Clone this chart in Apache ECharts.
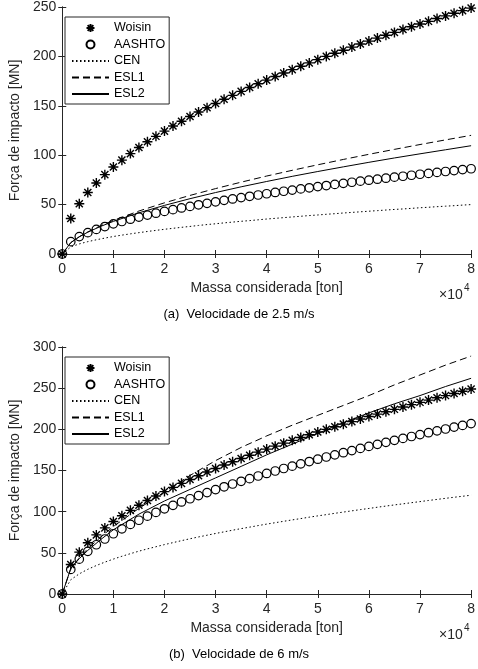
<!DOCTYPE html>
<html>
<head>
<meta charset="utf-8">
<script src="https://cdn.jsdelivr.net/npm/echarts/dist/echarts.min.js"></script>
<style>html,body{margin:0;background:#fff}#chart{width:478px;height:669px}</style>
</head>
<body>
<div id="chart"></div>
<script>
// massa considerada [ton], pontos dos marcadores
var mass = [0, 1667, 3333, 5000, 6667, 8333, 10000, 11667, 13333, 15000, 16667, 18333,
  20000, 21667, 23333, 25000, 26667, 28333, 30000, 31667, 33333, 35000, 36667, 38333,
  40000, 41667, 43333, 45000, 46667, 48333, 50000, 51667, 53333, 55000, 56667, 58333,
  60000, 61667, 63333, 65000, 66667, 68333, 70000, 71667, 73333, 75000, 76667, 78333, 80000];

// Woisin (igual nas duas velocidades)
var woisin = [0, 35.9, 50.8, 62.2, 71.8, 80.3, 88.0, 95.0, 101.6, 107.8, 113.6, 119.1,
  124.4, 129.5, 134.4, 139.1, 143.7, 148.1, 152.4, 156.6, 160.6, 164.6, 168.5, 172.3,
  176.0, 179.6, 183.2, 186.6, 190.1, 193.4, 196.7, 200.0, 203.2, 206.3, 209.4, 212.5,
  215.5, 218.5, 221.4, 224.3, 227.2, 230.0, 232.8, 235.5, 238.3, 241.0, 243.6, 246.3, 248.9];

// (a) 2.5 m/s
var aashtoA = [0, 12.5, 17.6, 21.6, 24.9, 27.8, 30.5, 32.9, 35.2, 37.4, 39.4, 41.3,
  43.1, 44.9, 46.6, 48.2, 49.8, 51.3, 52.8, 54.3, 55.7, 57.1, 58.4, 59.7,
  61.0, 62.3, 63.5, 64.7, 65.9, 67.0, 68.2, 69.3, 70.4, 71.5, 72.6, 73.7,
  74.7, 75.7, 76.7, 77.8, 78.7, 79.7, 80.7, 81.6, 82.6, 83.5, 84.4, 85.4, 86.3];
var cenA = [0, 7.2, 10.2, 12.5, 14.4, 16.1, 17.7, 19.1, 20.4, 21.6, 22.8, 23.9,
  25.0, 26.0, 27.0, 27.9, 28.9, 29.8, 30.6, 31.5, 32.3, 33.1, 33.8, 34.6,
  35.4, 36.1, 36.8, 37.5, 38.2, 38.9, 39.5, 40.2, 40.8, 41.5, 42.1, 42.7,
  43.3, 43.9, 44.5, 45.1, 45.6, 46.2, 46.8, 47.3, 47.9, 48.4, 48.9, 49.5, 50.0];

// (b) 6 m/s
var aashtoB = [0, 29.9, 42.3, 51.8, 59.8, 66.8, 73.2, 79.1, 84.5, 89.6, 94.5, 99.1,
  103.5, 107.7, 111.8, 115.7, 119.5, 123.2, 126.8, 130.2, 133.6, 136.9, 140.1, 143.3,
  146.4, 149.4, 152.4, 155.3, 158.1, 160.9, 163.7, 166.4, 169.0, 171.6, 174.2, 176.8,
  179.3, 181.8, 184.2, 186.6, 189.0, 191.3, 193.6, 195.9, 198.2, 200.4, 202.7, 204.8, 207.0];
var cenB = [0, 17.3, 24.5, 30.0, 34.6, 38.7, 42.4, 45.8, 49.0, 52.0, 54.8, 57.4,
  60.0, 62.4, 64.8, 67.1, 69.3, 71.4, 73.5, 75.5, 77.5, 79.4, 81.2, 83.1,
  84.9, 86.6, 88.3, 90.0, 91.6, 93.3, 94.9, 96.4, 98.0, 99.5, 101.0, 102.5,
  103.9, 105.4, 106.8, 108.2, 109.5, 110.9, 112.2, 113.6, 114.9, 116.2, 117.5, 118.7, 120.0];

// curvas ESL
var eslMass = [0, 1667, 3333, 5000, 7500, 10000, 15000, 20000, 25000, 30000, 35000,
  40000, 45000, 50000, 55000, 60000, 65000, 70000, 75000, 80000];
var esl1A = [0, 11.5, 17.5, 22.3, 28.6, 34, 43.5, 51.8, 59.3, 66.2, 72.7, 78.9, 84.7, 90.3, 95.7, 100.9, 105.9, 110.8, 115.5, 120.1];
var esl2A = [0, 11.5, 17.4, 22.1, 27.9, 33, 41.7, 49.2, 56.0, 62.2, 68.0, 73.4, 78.6, 83.5, 88.2, 92.8, 97.2, 101.4, 105.5, 109.6];
var esl1B = [0, 31, 44, 55, 69, 82, 104, 124, 144, 162, 178, 192, 205, 217, 229, 241, 254, 266, 278, 289];
var esl2B = [0, 31, 43, 53, 66, 78, 97, 113, 127, 141, 155, 169, 182, 195, 208, 220, 231, 241, 252, 262];

var xTicks = ['0', '1', '2', '3', '4', '5', '6', '7', '8'];
var names = ['Woisin', 'AASHTO', 'CEN', 'ESL1', 'ESL2'];
var captions = ['(a)  Velocidade de 2.5 m/s', '(b)  Velocidade de 6 m/s'];

var font = 'Liberation Sans, Arial, Helvetica, sans-serif';
var axisColor = '#262626';
var star = 'path://M0,-10L0,10M-10,0L10,0M-7.1,-7.1L7.1,7.1M-7.1,7.1L7.1,-7.1';

function pairs(xs, ys) {
  return xs.map(function (x, i) { return [x, ys[i]]; });
}

var chart = echarts.init(document.getElementById('chart'));

var grids = [
  { left: 54, right: 6, top: 7, height: 247 },
  { left: 54, right: 6, top: 347, height: 247 }
];
var ymax = [250, 300];

var xAxis = [], yAxis = [], series = [], legend = [];

grids.forEach(function (g, gi) {
  var tick = { inside: true, length: 4, lineStyle: { color: axisColor } };
  var line = { show: true, lineStyle: { color: axisColor, width: 1 } };
  xAxis.push({
    gridIndex: gi, type: 'value', min: 0, max: 80000, interval: 10000, position: 'bottom',
    axisLine: line, axisTick: tick, splitLine: { show: false },
    axisLabel: { formatter: function (v) { return xTicks[v / 10000]; }, fontSize: 14, color: axisColor, margin: 8, fontFamily: font },
    name: 'Massa considerada [ton]', nameLocation: 'middle', nameGap: 27,
    nameTextStyle: { fontSize: 14, color: axisColor, fontFamily: font }
  });
  xAxis.push({
    gridIndex: gi, type: 'value', min: 0, max: 80000, interval: 10000, position: 'top',
    axisLine: line, axisTick: tick, splitLine: { show: false }, axisLabel: { show: false }
  });
  yAxis.push({
    gridIndex: gi, type: 'value', min: 0, max: ymax[gi], interval: 50, position: 'left',
    axisLine: line, axisTick: tick, splitLine: { show: false },
    axisLabel: { fontSize: 14, color: axisColor, margin: 6, fontFamily: font },
    name: 'Força de impacto [MN]', nameLocation: 'middle', nameGap: 33,
    nameTextStyle: { fontSize: 14, color: axisColor, fontFamily: font }
  });
  yAxis.push({
    gridIndex: gi, type: 'value', min: 0, max: ymax[gi], interval: 50, position: 'right',
    axisLine: line, axisTick: tick, splitLine: { show: false }, axisLabel: { show: false }
  });

  var xi = gi * 2, yi = gi * 2;
  var aashto = gi === 0 ? aashtoA : aashtoB;
  var cen = gi === 0 ? cenA : cenB;
  var esl1 = gi === 0 ? esl1A : esl1B;
  var esl2 = gi === 0 ? esl2A : esl2B;
  var noMark = { color: 'rgba(0,0,0,0)', opacity: 0 };

  series.push({
    name: 'CEN', type: 'line', xAxisIndex: xi, yAxisIndex: yi, symbol: 'none',
    lineStyle: { color: '#000', width: 1, type: [1.5, 2.5] }, itemStyle: noMark,
    data: pairs(mass, cen)
  });
  series.push({
    name: 'ESL1', type: 'line', xAxisIndex: xi, yAxisIndex: yi, symbol: 'none',
    lineStyle: { color: '#000', width: 1, type: [7, 4] }, itemStyle: noMark,
    data: pairs(eslMass, esl1)
  });
  series.push({
    name: 'ESL2', type: 'line', xAxisIndex: xi, yAxisIndex: yi, symbol: 'none',
    lineStyle: { color: '#000', width: 1 }, itemStyle: noMark,
    data: pairs(eslMass, esl2)
  });
  series.push({
    name: 'AASHTO', type: 'scatter', xAxisIndex: xi, yAxisIndex: yi,
    symbol: 'circle', symbolSize: 8.5,
    itemStyle: { color: 'rgba(0,0,0,0)', borderColor: '#000', borderWidth: 1.2, opacity: 1 },
    data: pairs(mass, aashto)
  });
  series.push({
    name: 'Woisin', type: 'scatter', xAxisIndex: xi, yAxisIndex: yi,
    symbol: star, symbolSize: 10,
    itemStyle: { color: '#000', borderColor: '#000', borderWidth: 1.4, opacity: 1 },
    data: pairs(mass, woisin)
  });

  legend.push({
    orient: 'vertical', left: 65, top: g.top + 10, selectedMode: false,
    itemWidth: 37, itemHeight: 8, itemGap: 2.5,
    borderColor: axisColor, borderWidth: 1, padding: [4, 4, 3, 6],
    backgroundColor: '#fff',
    textStyle: { fontSize: 12.5, color: '#000', fontFamily: font, lineHeight: 14 },
    data: [
      { name: 'Woisin' },
      { name: 'AASHTO' },
      { name: 'CEN', itemStyle: noMark },
      { name: 'ESL1', itemStyle: noMark },
      { name: 'ESL2', itemStyle: noMark }
    ]
  });
});

var option = {
  animation: false,
  backgroundColor: '#fff',
  grid: grids,
  xAxis: xAxis,
  yAxis: yAxis,
  legend: legend,
  title: [
    { text: captions[0], left: 'center', top: 308, padding: 0,
      textStyle: { fontSize: 13, fontWeight: 'normal', color: '#000', fontFamily: font } },
    { text: captions[1], left: 'center', top: 648, padding: 0,
      textStyle: { fontSize: 13, fontWeight: 'normal', color: '#000', fontFamily: font } }
  ],
  graphic: [
    { type: 'text', left: 439, top: 288, style: { text: '×10', fontSize: 14, fill: axisColor, fontFamily: font } },
    { type: 'text', left: 464, top: 283, style: { text: '4', fontSize: 10, fill: axisColor, fontFamily: font } },
    { type: 'text', left: 439, top: 628, style: { text: '×10', fontSize: 14, fill: axisColor, fontFamily: font } },
    { type: 'text', left: 464, top: 623, style: { text: '4', fontSize: 10, fill: axisColor, fontFamily: font } }
  ],
  series: series
};

chart.setOption(option);
</script>
</body>
</html>
